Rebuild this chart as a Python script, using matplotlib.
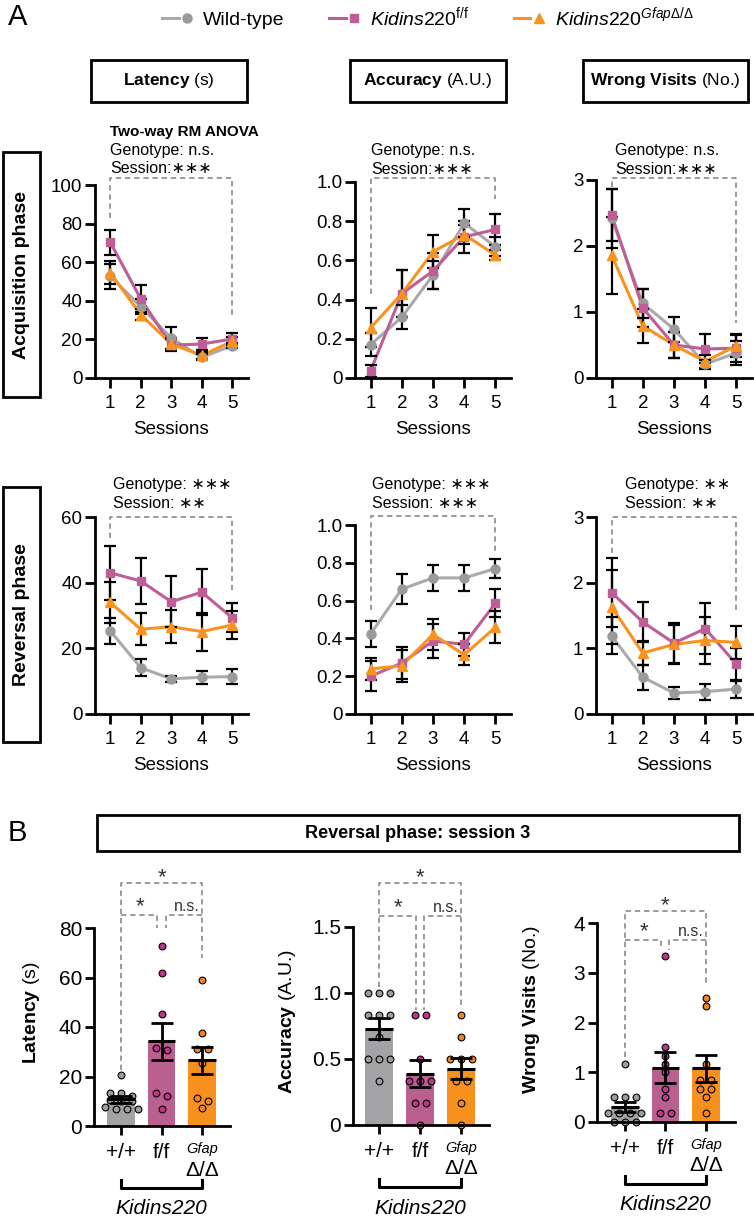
import numpy as np
import matplotlib
matplotlib.use("Agg")
import matplotlib.pyplot as plt
from matplotlib.patches import Rectangle
from matplotlib.transforms import blended_transform_factory
from matplotlib.legend_handler import HandlerTuple

plt.rcParams['font.family'] = ['Liberation Sans', 'DejaVu Sans']
plt.rcParams['mathtext.fontset'] = 'custom'
plt.rcParams['mathtext.rm'] = 'Liberation Sans'
plt.rcParams['mathtext.it'] = 'Liberation Sans:italic'
plt.rcParams['mathtext.bf'] = 'Liberation Sans:bold'

W, H = 754, 1224

# ---------------- data ----------------
sessions = [1, 2, 3, 4, 5]
session_labels = ['1', '2', '3', '4', '5']
genotypes = ['Wild-type', r'$\mathit{Kidins220}^{\mathrm{f/f}}$',
             r'$\mathit{Kidins220}^{\mathit{Gfap}\Delta/\Delta}$']

# Acquisition phase (mean, SEM)
acq_lat_wt = [52.7, 37.0, 20.7, 10.7, 16.8]
acq_lat_wt_sem = [6.5, 4.0, 5.5, 1.5, 1.5]
acq_lat_ff = [70.3, 41.0, 17.0, 17.6, 20.2]
acq_lat_ff_sem = [6.5, 7.0, 3.0, 3.0, 3.0]
acq_lat_ko = [54.5, 32.8, 17.6, 11.7, 19.0]
acq_lat_ko_sem = [6.0, 3.0, 3.0, 2.0, 2.0]

acq_acc_wt = [0.17, 0.31, 0.525, 0.79, 0.67]
acq_acc_wt_sem = [0.06, 0.06, 0.07, 0.07, 0.05]
acq_acc_ff = [0.037, 0.43, 0.546, 0.72, 0.758]
acq_acc_ff_sem = [0.03, 0.12, 0.09, 0.08, 0.08]
acq_acc_ko = [0.256, 0.43, 0.644, 0.732, 0.627]
acq_acc_ko_sem = [0.10, 0.12, 0.085, 0.05, 0.025]

acq_wv_wt = [2.42, 1.13, 0.74, 0.21, 0.38]
acq_wv_wt_sem = [0.45, 0.22, 0.19, 0.07, 0.18]
acq_wv_ff = [2.47, 1.06, 0.50, 0.44, 0.45]
acq_wv_ff_sem = [0.40, 0.29, 0.20, 0.22, 0.20]
acq_wv_ko = [1.86, 0.79, 0.50, 0.25, 0.49]
acq_wv_ko_sem = [0.58, 0.26, 0.20, 0.10, 0.17]

# Reversal phase (mean, SEM)
rev_lat_wt = [25.3, 14.1, 10.7, 11.2, 11.4]
rev_lat_wt_sem = [4.0, 2.5, 1.0, 2.0, 2.2]
rev_lat_ff = [43.0, 40.5, 34.2, 37.1, 29.3]
rev_lat_ff_sem = [8.3, 7.0, 7.7, 7.0, 4.4]
rev_lat_ko = [34.0, 25.8, 26.6, 25.1, 27.1]
rev_lat_ko_sem = [6.3, 4.9, 5.0, 5.8, 4.4]

rev_acc_wt = [0.424, 0.661, 0.72, 0.72, 0.769]
rev_acc_wt_sem = [0.07, 0.08, 0.07, 0.07, 0.05]
rev_acc_ff = [0.20, 0.27, 0.386, 0.369, 0.586]
rev_acc_ff_sem = [0.08, 0.085, 0.09, 0.06, 0.075]
rev_acc_ko = [0.238, 0.256, 0.421, 0.313, 0.459]
rev_acc_ko_sem = [0.06, 0.085, 0.08, 0.055, 0.085]

rev_wv_wt = [1.19, 0.56, 0.32, 0.34, 0.38]
rev_wv_wt_sem = [0.28, 0.19, 0.09, 0.12, 0.13]
rev_wv_ff = [1.85, 1.40, 1.08, 1.30, 0.76]
rev_wv_ff_sem = [0.52, 0.30, 0.30, 0.39, 0.24]
rev_wv_ko = [1.63, 0.93, 1.06, 1.12, 1.09]
rev_wv_ko_sem = [0.57, 0.18, 0.30, 0.36, 0.25]

# Reversal session 3, individual animals
bar_labels = ['+/+', 'f/f', '']
lat_wt_pts = [20.5, 13.5, 13.5, 12.0, 10.5, 10.0, 10.0, 7.5, 7.0, 7.0, 7.0]
lat_ff_pts = [72.9, 61.7, 45.3, 31.4, 30.7, 13.2, 12.2, 6.7]
lat_ko_pts = [59.0, 37.4, 31.0, 31.0, 25.3, 11.2, 9.9, 7.1]
lat_sem = [1.3, 7.5, 5.5]
acc_wt_pts = [1.0, 1.0, 1.0, 0.833, 0.833, 0.833, 0.667, 0.5, 0.5, 0.5, 0.333]
acc_ff_pts = [0.833, 0.833, 0.5, 0.333, 0.333, 0.333, 0.167, 0.167, 0.0]
acc_ko_pts = [0.833, 0.667, 0.5, 0.5, 0.5, 0.333, 0.333, 0.167, 0.0]
acc_sem = [0.08, 0.10, 0.08]
wv_wt_pts = [1.167, 0.5, 0.5, 0.5, 0.167, 0.167, 0.167, 0.167, 0.0, 0.0, 0.0]
wv_ff_pts = [3.333, 1.5, 1.333, 1.167, 1.0, 0.667, 0.5, 0.167, 0.167]
wv_ko_pts = [2.5, 2.333, 1.167, 0.833, 0.833, 0.667, 0.667, 0.5, 0.167]
wv_sem = [0.10, 0.31, 0.27]

# ---------------- style ----------------
C_WT, C_WT_M = '#AAAAAC', '#9A9A9C'
C_FF = '#BD5E97'
C_KO = '#F7931E'
BAR_C = ['#A3A3A5', '#B9608F', '#F7911E']
DOT_C = ['#9C9C9E', '#C1338E', '#F5841F']
DASH = dict(color='#808080', lw=1.1, ls=(0, (3.5, 2.5)), clip_on=False)

fig = plt.figure(figsize=(W / 100, H / 100), dpi=100)


def add_ax(l, t, r, b):
    return fig.add_axes([l / W, 1 - b / H, (r - l) / W, (b - t) / H])


def ftext(x, y, s, **kw):
    kw.setdefault('ha', 'left')
    kw.setdefault('va', 'center')
    return fig.text(x / W, 1 - y / H, s, **kw)


def fbox(l, t, r, b, lw=2.0):
    fig.patches.append(Rectangle((l / W, 1 - b / H), (r - l) / W, (b - t) / H,
                                 transform=fig.transFigure, fill=False,
                                 lw=lw, ec='black'))


def style(ax, labelsize, ticklen):
    for s in ['top', 'right']:
        ax.spines[s].set_visible(False)
    for s in ['left', 'bottom']:
        ax.spines[s].set_linewidth(2)
    ax.tick_params(width=2, length=ticklen, labelsize=labelsize, colors='black')
    ax.tick_params(axis='y', pad=2)


handles = []


def line_panel(box, series, ylim, yticks, ytl, bracket, stats, stats_xy):
    ax = add_ax(*box)
    ax.set_xlim(0.5, 5.5)
    ax.set_ylim(*ylim)
    style(ax, 13.5, 7)
    ax.tick_params(axis='x', pad=5)
    ax.set_xticks(sessions)
    ax.set_xticklabels(session_labels)
    ax.set_yticks(yticks)
    ax.set_yticklabels(ytl)
    hs = []
    for (m, e, c, mc, mk, ms) in series:
        ln, = ax.plot(sessions, m, color=c, lw=2.2, zorder=2, clip_on=False)
        ax.errorbar(sessions, m, yerr=e, fmt='none', ecolor='black',
                    elinewidth=1.6, capsize=4, capthick=1.6, zorder=3,
                    clip_on=False)
        mm, = ax.plot(sessions, m, ls='none', marker=mk, ms=ms, color=mc,
                      mec=mc, zorder=4, clip_on=False)
        hs.append((ln, mm))
    top, lb, rb = bracket
    ax.plot([1, 1, 5, 5], [lb, top, top, rb], **DASH)
    x0, y0 = stats_xy
    for i, s in enumerate(stats):
        ftext(x0, y0 + 18.5 * i, s, fontsize=11.5)
    xc = (box[0] + box[2]) / 2
    ftext(xc, box[3] + 52, 'Sessions', fontsize=13.5, ha='center')
    return ax, hs


order = lambda wt, wte, ff, ffe, ko, koe: [
    (wt, wte, C_WT, C_WT_M, 'o', 6.5),
    (ff, ffe, C_FF, C_FF, 's', 6.0),
    (ko, koe, C_KO, C_KO, '^', 7.0)]

lat_ticks, lat_tl = [0, 20, 40, 60, 80, 100], ['0', '20', '40', '60', '80', '100']
acc_ticks, acc_tl = [0, 0.2, 0.4, 0.6, 0.8, 1.0], ['0', '0.2', '0.4', '0.6', '0.8', '1.0']
wv_ticks, wv_tl = [0, 1, 2, 3], ['0', '1', '2', '3']
rlat_ticks, rlat_tl = [0, 20, 40, 60], ['0', '20', '40', '60']

STAR3 = '\u2217\u2217\u2217'
STAR2 = '\u2217\u2217'

ax, hs = line_panel((95, 185, 247.5, 378),
                    order(acq_lat_wt, acq_lat_wt_sem, acq_lat_ff, acq_lat_ff_sem, acq_lat_ko, acq_lat_ko_sem),
                    (0, 100), lat_ticks, lat_tl, (103.6, 82.9, 31),
                    ['Genotype: n.s.', 'Session:' + STAR3], (110, 150))
handles = hs
line_panel((355, 182, 511, 378),
           order(acq_acc_wt, acq_acc_wt_sem, acq_acc_ff, acq_acc_ff_sem, acq_acc_ko, acq_acc_ko_sem),
           (0, 1.0), acc_ticks, acc_tl, (1.02, 0.43, 0.915),
           ['Genotype: n.s.', 'Session:' + STAR3], (371, 151))
line_panel((596, 180, 752, 378),
           order(acq_wv_wt, acq_wv_wt_sem, acq_wv_ff, acq_wv_ff_sem, acq_wv_ko, acq_wv_ko_sem),
           (0, 3), wv_ticks, wv_tl, (3.03, 2.9, 0.83),
           ['Genotype: n.s.', 'Session:' + STAR3], (615, 151))
line_panel((95, 517, 247.5, 714),
           order(rev_lat_wt, rev_lat_wt_sem, rev_lat_ff, rev_lat_ff_sem, rev_lat_ko, rev_lat_ko_sem),
           (0, 60), rlat_ticks, rlat_tl, (60, 53.6, 36.9),
           ['Genotype: ' + STAR3, 'Session: ' + STAR2], (113, 485))
line_panel((355, 525, 511, 714),
           order(rev_acc_wt, rev_acc_wt_sem, rev_acc_ff, rev_acc_ff_sem, rev_acc_ko, rev_acc_ko_sem),
           (0, 1.0), acc_ticks, acc_tl, (1.047, 0.55, 0.85),
           ['Genotype: ' + STAR3, 'Session: ' + STAR3], (372, 485))
line_panel((596, 517, 752, 714),
           order(rev_wv_wt, rev_wv_wt_sem, rev_wv_ff, rev_wv_ff_sem, rev_wv_ko, rev_wv_ko_sem),
           (0, 3), wv_ticks, wv_tl, (3.0, 2.45, 1.55),
           ['Genotype: ' + STAR2, 'Session: ' + STAR2], (625, 485))

ftext(110, 132, 'Two-way RM ANOVA', fontsize=11, fontweight='bold')

# legend
fig.legend(handles=handles, labels=genotypes, loc='center left',
           bbox_to_anchor=(162 / W, 1 - 17 / H), ncol=3, frameon=False,
           fontsize=14, handlelength=1.7, handletextpad=0.4, columnspacing=2.3,
           borderpad=0, borderaxespad=0,
           handler_map={tuple: HandlerTuple(ndivide=None)})

# panel labels and title boxes
ftext(8, 17, 'A', fontsize=21)
ftext(8, 833, 'B', fontsize=21)
fbox(91, 60, 247, 102)
ftext(169, 81, r'$\mathbf{Latency}$ (s)', fontsize=12.5, ha='center')
fbox(350, 60, 506, 102)
ftext(428, 81, r'$\mathbf{Accuracy}$ (A.U.)', fontsize=12.5, ha='center')
fbox(583, 60, 748, 102)
ftext(665, 81, r'$\mathbf{Wrong\ Visits}$ (No.)', fontsize=12.5, ha='center')
fbox(3, 152, 40, 397)
ftext(22, 275, 'Acquisition phase', fontsize=14, fontweight='bold', rotation=90, ha='center')
fbox(3, 487, 40, 742)
ftext(22, 615, 'Reversal phase', fontsize=14, fontweight='bold', rotation=90, ha='center')
fbox(97, 815, 739, 851)
ftext(418, 833, 'Reversal phase: session 3', fontsize=13, fontweight='bold', ha='center')


# ---------------- bar panels ----------------
def swarm_x(ax, x, vals, d_px=11.0, tol_px=4.0):
    """Spread points that share (nearly) the same value into centred rows."""
    sy = ax.transData.transform((0, 1))[1] - ax.transData.transform((0, 0))[1]
    sx = ax.transData.transform((1, 0))[0] - ax.transData.transform((0, 0))[0]
    vals = np.asarray(vals, float)
    idx = np.argsort(-vals, kind='stable')
    rows = []
    for i in idx:
        if rows and abs(vals[rows[-1][0]] - vals[i]) * sy < tol_px:
            rows[-1].append(i)
        else:
            rows.append([i])
    xs = np.zeros_like(vals)
    for row in rows:
        n = len(row)
        for k, i in enumerate(row):
            xs[i] = x + (k - (n - 1) / 2) * d_px / sx
    return xs


def bar_panel(box, xlim, ylim, yticks, ytl, pts, sem, sig, ylabel, ylabel_xy):
    ax = add_ax(*box)
    ax.set_xlim(*xlim)
    ax.set_ylim(*ylim)
    style(ax, 15, 6.5)
    ax.tick_params(axis='x', pad=6)
    x = np.arange(3)
    means = [float(np.mean(p)) for p in pts]
    wdt = 0.68
    ax.bar(x, means, width=wdt, color=BAR_C, zorder=1)
    for i, p in enumerate(pts):
        ax.scatter(swarm_x(ax, i, p), p, s=24, color=DOT_C[i], edgecolor='black',
                   linewidth=0.8, zorder=2, clip_on=False)
    ax.hlines(means, x - wdt / 2, x + wdt / 2, color='black', lw=2.2, zorder=3)
    ax.errorbar(x, means, yerr=sem, fmt='none', ecolor='black', elinewidth=2,
                capsize=8, capthick=2, zorder=3)
    ax.set_xticks(x)
    ax.set_xticklabels(bar_labels)
    ax.set_yticks(yticks)
    ax.set_yticklabels(ytl)
    sy = ax.transData.transform((0, 1))[1] - ax.transData.transform((0, 0))[1]
    top, second, b_wt, b_ff, b_ko = sig
    g = 0.1
    ax.plot([0, 0, 2, 2], [b_wt, top, top, b_ko], **DASH)
    ax.plot([0, 1 - g, 1 - g], [second, second, b_ff], **DASH)
    ax.plot([2, 1 + g, 1 + g], [second, second, b_ff], **DASH)
    ax.text(1, top, '*', fontsize=16, ha='center', va='baseline', color='#333333')
    ax.text(0.47, second + 3 / sy, '*', fontsize=16, ha='center', va='baseline', color='#333333')
    ax.text(1.62, second + 4 / sy, 'n.s.', fontsize=11.5, ha='center', va='baseline', color='#333333')
    tr = blended_transform_factory(ax.transData, fig.transFigure)
    zero = box[3]
    ax.text(2, 1 - (zero + 23) / H, 'Gfap', style='italic', fontsize=10.5,
            ha='center', va='center', transform=tr)
    ax.text(2, 1 - (zero + 44) / H, '\u0394/\u0394', fontsize=15,
            ha='center', va='center', transform=tr)
    yb = zero + 62
    ax.plot([0, 0, 2, 2], [1 - (yb - 8) / H, 1 - yb / H, 1 - yb / H, 1 - (yb - 8) / H],
            transform=tr, color='black', lw=2.2, clip_on=False)
    ax.text(1, 1 - (zero + 83) / H, 'Kidins220', style='italic', fontsize=15,
            ha='center', va='center', transform=tr)
    ftext(ylabel_xy[0], ylabel_xy[1], ylabel, fontsize=14, rotation=90, ha='center')
    return ax


bar_panel((94, 928, 230, 1126), (-0.667, 2.69), (0, 80),
          [0, 20, 40, 60, 80], ['0', '20', '40', '60', '80'],
          [lat_wt_pts, lat_ff_pts, lat_ko_pts], lat_sem,
          (98.2, 85.3, 22.6, 80.0, 67.9), r'$\mathbf{Latency}$ (s)', (32, 1013))
bar_panel((353, 926.7, 489, 1125), (-0.634, 2.68), (0, 1.5),
          [0, 0.5, 1.0, 1.5], ['0', '0.5', '1.0', '1.5'],
          [acc_wt_pts, acc_ff_pts, acc_ko_pts], acc_sem,
          (1.83, 1.58, 1.045, 0.87, 0.885), r'$\mathbf{Accuracy}$ (A.U.)', (287, 1022))
bar_panel((597, 923.3, 735, 1121.7), (-0.69, 2.72), (0, 4),
          [0, 1, 2, 3, 4], ['0', '1', '2', '3', '4'],
          [wv_wt_pts, wv_ff_pts, wv_ko_pts], wv_sem,
          (4.25, 3.66, 1.31, 3.46, 2.8), r'$\mathbf{Wrong\ Visits}$ (No.)', (532, 1010))

fig.savefig('out.png', dpi=100)
